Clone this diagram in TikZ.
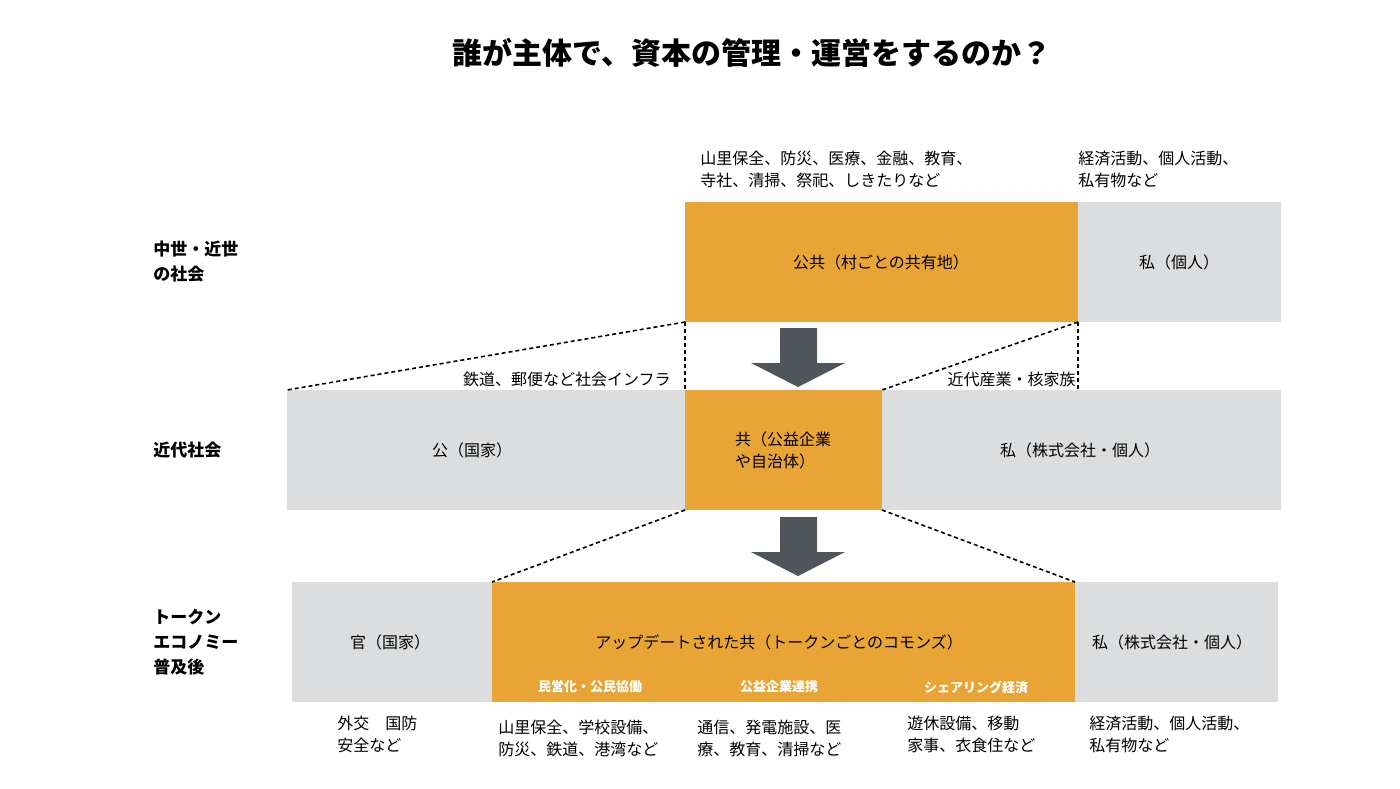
\documentclass[tikz,border=0pt]{standalone}
\usepackage{fontspec}
\setmainfont{Noto Sans CJK JP}
\usetikzlibrary{positioning}
\definecolor{pubOrange}{HTML}{E8A536}
\definecolor{priGray}{HTML}{DCDDDF}
\definecolor{arrGray}{HTML}{50555C}
\begin{document}
\begin{tikzpicture}[x = 0.5pt, y = -0.5pt,
                        orangebox/.style = {fill = pubOrange, draw = none},
                        graybox/.style = {fill = priGray, draw = none},
                        txt/.style = {font = \fontsize{8}{11}\selectfont, align = left, inner sep = 0pt},
                        rowlabel/.style = {font = \fontsize{8.5}{12.5}\selectfont\bfseries, align = left, anchor = west, inner sep = 0pt},
                        tag/.style = {font = \fontsize{6.5}{8}\selectfont\bfseries, text = white, inner sep = 0pt},
                        dots/.style = {densely dashed, line width = 0.8pt, dash pattern = on 2pt off 1.5pt}]
    \useasboundingbox (0, 0) rectangle (1400, 788);
    \node [font = \fontsize{15}{18}\selectfont\bfseries, inner sep = 0pt] (title) at (752, 53) {誰が主体で、資本の管理・運営をするのか？};
    % row 1
    \draw [orangebox] (685, 202) rectangle (1078, 322);
    \draw [graybox] (1078, 202) rectangle (1281, 322);
    \coordinate (r1l) at (685, 322);
    \coordinate (r1r) at (1078, 322);
    \node [txt] (pub1) at (881, 262) {公共（村ごとの共有地）};
    \node [txt] (pri1) at (1179, 262) {私（個人）};
    \node [txt, anchor = west] (n1) at (700, 169) {山里保全、防災、医療、金融、教育、\\寺社、清掃、祭祀、しきたりなど};
    \node [txt, anchor = west] (n2) at (1078, 169) {経済活動、個人活動、\\私有物など};
    \node [rowlabel] (row1) at (153, 262) {中世・近世\\の社会};
    % row 2
    \draw [graybox] (287, 390) rectangle (685, 510);
    \draw [orangebox] (685, 390) rectangle (882, 510);
    \draw [graybox] (882, 390) rectangle (1281, 510);
    \coordinate (r2a) at (287, 390);
    \coordinate (r2b) at (685, 390);
    \coordinate (r2c) at (882, 390);
    \coordinate (r2d) at (1078, 390);
    \coordinate (r2e) at (685, 510);
    \coordinate (r2f) at (882, 510);
    \node [txt] (pub2) at (472, 450) {公（国家）};
    \node [txt] (kyo2) at (783, 450) {共（公益企業\\や自治体）};
    \node [txt] (pri2) at (1080, 450) {私（株式会社・個人）};
    \node [txt, anchor = east] (n3) at (671, 379) {鉄道、郵便など社会インフラ};
    \node [txt, anchor = east] (n4) at (1076, 379) {近代産業・核家族};
    \node [rowlabel] (row2) at (153, 450) {近代社会};
    % row 3
    \draw [graybox] (292, 582) rectangle (492, 702);
    \draw [orangebox] (492, 582) rectangle (1075, 702);
    \draw [graybox] (1075, 582) rectangle (1278, 702);
    \coordinate (r3a) at (492, 582);
    \coordinate (r3b) at (1075, 582);
    \node [txt] (gov3) at (390, 642) {官（国家）};
    \node [txt] (kyo3) at (779, 642) {アップデートされた共（トークンごとのコモンズ）};
    \node [txt] (pri3) at (1172, 642) {私（株式会社・個人）};
    \node [tag] (t1) at (590, 687) {民営化・公民協働};
    \node [tag] (t2) at (779, 687) {公益企業連携};
    \node [tag] (t3) at (976, 687) {シェアリング経済};
    \node [txt, anchor = west] (n5) at (337, 734) {外交　国防\\安全など};
    \node [txt, anchor = west] (n6) at (498, 738) {山里保全、学校設備、\\防災、鉄道、港湾など};
    \node [txt, anchor = west] (n7) at (697, 738) {通信、発電施設、医\\療、教育、清掃など};
    \node [txt, anchor = west] (n8) at (907, 734) {遊休設備、移動\\家事、衣食住など};
    \node [txt, anchor = west] (n9) at (1089, 734) {経済活動、個人活動、\\私有物など};
    \node [rowlabel] (row3) at (153, 642) {トークン\\エコノミー\\普及後};
    % dotted guides
    \draw [dots] (r1l) -- (r2a);
    \draw [dots] (r1l) -- (r2b);
    \draw [dots] (r1r) -- (r2c);
    \draw [dots] (r1r) -- (r2d);
    \draw [dots] (r2e) -- (r3a);
    \draw [dots] (r2f) -- (r3b);
    % arrows
    \foreach \y in {328, 517} {
        \fill [arrGray] (780, \y) -- (817, \y) -- (817, \y + 35) -- (845, \y + 35)
            -- (798, \y + 59) -- (751, \y + 35) -- (780, \y + 35) -- cycle;
    }
\end{tikzpicture}
\end{document}
